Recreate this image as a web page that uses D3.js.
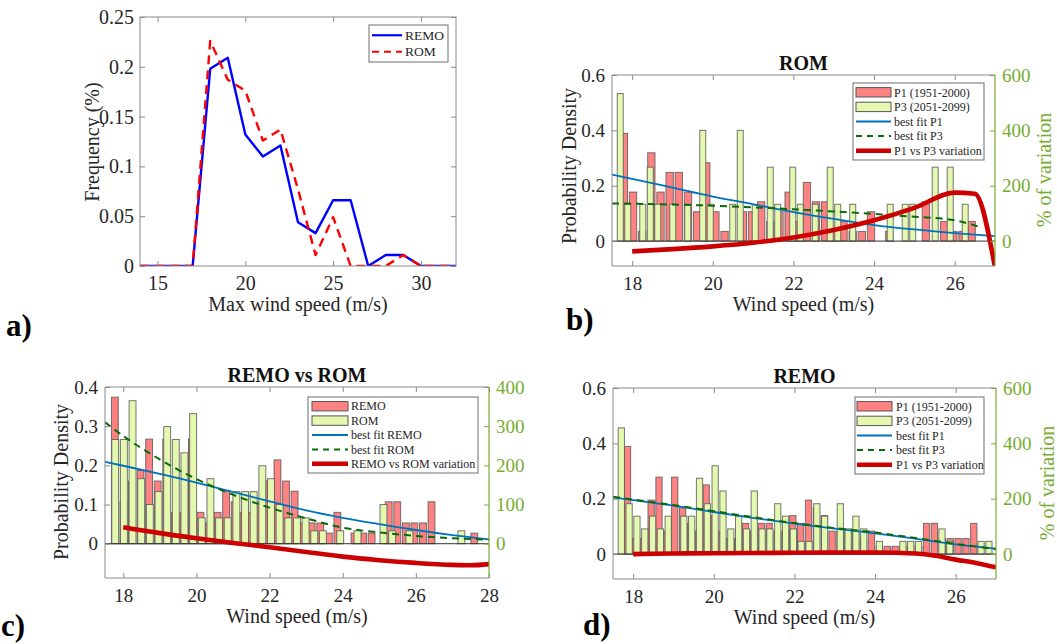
<!DOCTYPE html>
<html>
<head>
<meta charset="utf-8">
<script src="https://cdn.jsdelivr.net/npm/d3@7"></script>
<style>
  html, body { margin: 0; padding: 0; background: #fff; }
  svg { display: block; }
  svg text { font-family: "Liberation Serif", Tinos, "Times New Roman", "DejaVu Serif", serif; }
</style>
</head>
<body>
<svg id="fig" width="1057" height="644"></svg>
<script>
// ---------------- data ----------------
// a) frequency of the annual maximum wind speed
const maxWindSpeed  = [14, 15, 16, 17, 18, 19, 20, 21, 22, 23, 24, 25, 26, 27, 28, 29, 30, 31, 32];
const remoFrequency = [0, 0, 0, 0, 0.198, 0.209, 0.132, 0.110, 0.121, 0.044, 0.033, 0.066, 0.066, 0, 0.011, 0.011, 0, 0, 0];
const romFrequency  = [0, 0, 0, 0, 0.226, 0.187, 0.176, 0.126, 0.137, 0.077, 0.011, 0.049, 0, 0, 0, 0.011, 0, 0, 0];

// b) ROM, P1 vs P3 histograms (first bin centre, bin step, densities)
const romP1Start = 17.795, romP1Step = 0.227;
const romP1Density = [0.389, 0.177, 0.035, 0.319, 0.177, 0.248, 0.248, 0.177, 0.106, 0.283,
                      0.106, 0.035, 0, 0.106, 0.106, 0.142, 0.071, 0.106, 0.177, 0.071,
                      0.212, 0.142, 0.142, 0.035, 0.071, 0.035, 0.035, 0.106, 0, 0.035,
                      0, 0, 0, 0.142, 0, 0.071, 0.035, 0.035, 0.071];
const romP3Start = 17.705, romP3Step = 0.186;
const romP3Density = [0.533, 0.133, 0, 0.133, 0.267, 0.133, 0, 0.133, 0, 0.133,
                      0, 0.4, 0.133, 0, 0, 0.133, 0.4, 0, 0.133, 0,
                      0.267, 0.133, 0, 0.267, 0.133, 0, 0.133, 0, 0.267, 0.133,
                      0, 0.133, 0, 0, 0, 0, 0.133, 0, 0.133, 0.133,
                      0, 0, 0.267, 0, 0.267, 0, 0.133, 0];
const romFitP1X = [17.5, 18, 19, 20, 21, 22, 23, 24, 25, 26, 27];
const romFitP1  = [0.240, 0.225, 0.193, 0.161, 0.133, 0.105, 0.080, 0.058, 0.042, 0.029, 0.018];
const romFitP3X = [17.5, 18, 19, 20, 21, 22, 23, 24, 25, 26, 26.6];
const romFitP3  = [0.136, 0.135, 0.132, 0.128, 0.122, 0.115, 0.107, 0.098, 0.088, 0.075, 0.052];
const romVarX   = [18, 19, 20, 21, 22, 23, 24, 25, 26, 26.5, 27];
const romVar    = [-37, -29, -19, -6, 13, 40, 75, 120, 175, 171, -95];

// c) REMO vs ROM histograms
const remoStart = 17.77, remoStep = 0.234;
const remoDensity = [0.374, 0.107, 0.160, 0.187, 0.267, 0.160, 0.267, 0.080, 0.080, 0.267,
                     0.080, 0.053, 0.080, 0.134, 0.107, 0.080, 0.080, 0.107, 0.160, 0.214,
                     0.160, 0.134, 0.053, 0.053, 0.053, 0.027, 0.080, 0, 0.027, 0.027,
                     0.027, 0, 0.107, 0.107, 0.053, 0.053, 0.053, 0.107, 0, 0,
                     0, 0, 0.027];
const romStart = 17.78, romStep = 0.2366;
const romDensity = [0.266, 0.266, 0.365, 0.166, 0.100, 0.133, 0.299, 0.266, 0.232, 0.332,
                    0.066, 0.166, 0.066, 0.066, 0.133, 0.133, 0.133, 0.199, 0.166, 0.100,
                    0.066, 0.066, 0.066, 0.033, 0.033, 0, 0.033, 0, 0.033, 0,
                    0, 0.100, 0.033, 0, 0.033, 0, 0, 0, 0, 0,
                    0.033];
const cmpFitX    = [17.5, 18, 19, 20, 21, 22, 23, 24, 25, 26, 27, 28];
const cmpFitRemo = [0.209, 0.199, 0.178, 0.156, 0.132, 0.108, 0.085, 0.066, 0.050, 0.035, 0.022, 0.011];
const cmpFitRom  = [0.310, 0.275, 0.215, 0.165, 0.125, 0.092, 0.065, 0.041, 0.029, 0.020, 0.014, 0.010];
const cmpVarX    = [18, 19, 20, 21, 22, 23, 24, 25, 26, 27, 27.5, 28];
const cmpVar     = [42, 27, 14, 2, -9, -21, -33, -42, -49, -54, -55, -52];

// d) REMO, P1 vs P3 histograms
const remoP1Start = 17.86, remoP1Step = 0.1952;
const remoP1Density = [0.389, 0.056, 0.056, 0.195, 0.278, 0.083, 0.278, 0.167, 0.111, 0.083,
                       0.250, 0.139, 0.083, 0.056, 0.056, 0.111, 0.083, 0.111, 0.111, 0.083,
                       0.083, 0.139, 0.111, 0.195, 0.167, 0.139, 0.083, 0.083, 0.083, 0.083,
                       0.056, 0.083, 0.028, 0.028, 0.028, 0.028, 0.028, 0.028, 0.111, 0.111,
                       0.056, 0.056, 0.056, 0.056, 0.111, 0];
const remoP3Start = 17.706, remoP3Step = 0.194;
const remoP3Density = [0.456, 0.182, 0.137, 0.091, 0.137, 0.091, 0.137, 0, 0.137, 0.137,
                       0.274, 0.182, 0.319, 0.228, 0.091, 0.137, 0.091, 0.228, 0.091, 0.091,
                       0.182, 0.137, 0.091, 0.046, 0.046, 0.182, 0.137, 0, 0.182, 0.091,
                       0.137, 0.091, 0, 0.046, 0, 0, 0.046, 0.046, 0.046, 0,
                       0, 0.091, 0.046, 0, 0, 0, 0.046, 0.046];
const remoFitX  = [17.5, 18, 19, 20, 21, 22, 23, 24, 25, 26, 27];
const remoFitP1 = [0.205, 0.195, 0.175, 0.152, 0.130, 0.110, 0.092, 0.075, 0.056, 0.035, 0.020];
const remoFitP3 = [0.207, 0.197, 0.177, 0.155, 0.133, 0.112, 0.094, 0.078, 0.058, 0.037, 0.018];
const remoVarX  = [18, 19, 20, 21, 22, 23, 24, 25, 25.5, 26, 26.5, 27];
const remoVar   = [0, 2, 3, 4, 5, 6, 6, 2, -6, -20, -32, -48];

// ---------------- styling ----------------
const FONT = '"Liberation Serif", Tinos, "Times New Roman", "DejaVu Serif", serif';
const AXIS_GRAY = "#8a8a8a";
const TEXT_COL = "#262626";
const RIGHT_GREEN = "#77AC30";
const BAR_RED = "#FF8282";
const BAR_GREEN = "#E4F8B0";
const BAR_EDGE = "#555555";
const FIT_BLUE = "#0072BD";
const FIT_GREEN = "#0B6A0B";
const VAR_RED = "#CC0000";

const svg = d3.select("#fig").attr("font-family", FONT);
let clipCount = 0;

function pairs(xs, ys) { return xs.map((x, i) => [x, ys[i]]); }

function styleAxis(sel, fs, col, tickCol) {
  sel.attr("font-family", FONT);
  sel.select(".domain").remove();
  sel.selectAll(".tick line").attr("stroke", tickCol || AXIS_GRAY).attr("stroke-width", 1);
  sel.selectAll(".tick text").attr("fill", col || TEXT_COL)
     .attr("font-family", FONT).style("font-size", fs + "px");
}

function plotArea(g, xs, ys) {
  const id = "clip" + (clipCount++);
  const [x0, x1] = xs.range(), [y1, y0] = ys.range();
  g.append("clipPath").attr("id", id).append("rect")
    .attr("x", x0).attr("y", y0).attr("width", x1 - x0).attr("height", y1 - y0);
  return g.append("g").attr("clip-path", `url(#${id})`);
}

function drawBars(area, xs, ys, start, step, values, fill) {
  const w = xs(start + step * 0.8) - xs(start);
  area.append("g").selectAll("rect")
    .data(values.map((v, i) => ({ c: start + i * step, v })).filter(d => d.v > 0))
    .join("rect")
    .attr("x", d => xs(d.c) - w / 2)
    .attr("width", w)
    .attr("y", d => ys(d.v))
    .attr("height", d => ys(0) - ys(d.v))
    .attr("fill", fill)
    .attr("stroke", BAR_EDGE)
    .attr("stroke-opacity", 0.8)
    .attr("stroke-width", 1);
}

function drawLine(area, xs, ys, pts, color, width, dash, curve) {
  area.append("path")
    .datum(pts)
    .attr("fill", "none")
    .attr("stroke", color)
    .attr("stroke-width", width)
    .attr("stroke-dasharray", dash || null)
    .attr("stroke-linejoin", "round")
    .attr("d", d3.line().x(d => xs(d[0])).y(d => ys(d[1])).curve(curve || d3.curveLinear));
}

function addText(g, x, y, str, fs, opts) {
  opts = opts || {};
  const t = g.append("text")
    .attr("x", x).attr("y", y)
    .attr("font-family", FONT)
    .style("font-size", fs + "px")
    .attr("fill", opts.fill || TEXT_COL)
    .text(str);
  if (opts.anchor) t.attr("text-anchor", opts.anchor);
  if (opts.bold) t.style("font-weight", "bold");
  if (opts.dy) t.attr("dy", opts.dy);
  if (opts.transform) t.attr("transform", opts.transform).attr("x", 0).attr("y", 0);
  return t;
}

function drawLegend(g, box, rows, fs) {
  g.append("rect").attr("x", box.x).attr("y", box.y).attr("width", box.w).attr("height", box.h)
    .attr("fill", "#fff").attr("stroke", "#6e6e6e").attr("stroke-width", 1);
  const n = rows.length, pad = 2, dy = (box.h - 2 * pad) / n;
  rows.forEach((r, i) => {
    const cy = box.y + pad + (i + 0.5) * dy;
    const sx0 = box.x + box.sw0, sx1 = box.x + box.sw1;
    if (r.type === "patch") {
      g.append("rect").attr("x", sx0).attr("y", cy - 4.7).attr("width", sx1 - sx0).attr("height", 9.4)
        .attr("fill", r.color).attr("stroke", BAR_EDGE).attr("stroke-width", 1);
    } else {
      g.append("line").attr("x1", sx0).attr("x2", sx1).attr("y1", cy).attr("y2", cy)
        .attr("stroke", r.color).attr("stroke-width", r.width)
        .attr("stroke-dasharray", r.dash || null);
    }
    addText(g, box.x + box.tx, cy, r.label, fs, { dy: "0.35em" });
  });
}

function fmtTick(d) { return d === 0 ? "0" : String(+d.toFixed(2)); }

// ---------------- panel a ----------------
(function () {
  const g = svg.append("g");
  const xs = d3.scaleLinear().domain([14, 32]).range([140, 456]);
  const ys = d3.scaleLinear().domain([0, 0.25]).range([266, 17]);
  const fs = 20;

  const area = plotArea(g, xs, ys);
  drawLine(area, xs, ys, pairs(maxWindSpeed, remoFrequency), "#0000FF", 2.4);
  drawLine(area, xs, ys, pairs(maxWindSpeed, romFrequency), "#FF0000", 2.4, "9,6");

  g.append("g").attr("transform", "translate(0,266)")
    .call(d3.axisBottom(xs).tickValues([15, 20, 25, 30]).tickSizeInner(-5).tickSizeOuter(0).tickPadding(10))
    .call(s => styleAxis(s, fs));
  g.append("g").attr("transform", "translate(0,17)")
    .call(d3.axisTop(xs).tickValues([15, 20, 25, 30]).tickSizeInner(-5).tickSizeOuter(0).tickFormat(""))
    .call(s => styleAxis(s, fs));
  g.append("g").attr("transform", "translate(140,0)")
    .call(d3.axisLeft(ys).tickValues([0, 0.05, 0.1, 0.15, 0.2, 0.25]).tickSizeInner(-5).tickSizeOuter(0).tickPadding(6).tickFormat(fmtTick))
    .call(s => styleAxis(s, fs));
  g.append("g").attr("transform", "translate(456,0)")
    .call(d3.axisRight(ys).tickValues([0, 0.05, 0.1, 0.15, 0.2, 0.25]).tickSizeInner(-5).tickSizeOuter(0).tickFormat(""))
    .call(s => styleAxis(s, fs));
  g.append("rect").attr("x", 140).attr("y", 17).attr("width", 316).attr("height", 249)
    .attr("fill", "none").attr("stroke", AXIS_GRAY).attr("stroke-width", 1);

  addText(g, 298, 311, "Max wind speed (m/s)", fs, { anchor: "middle" });
  addText(g, 0, 0, "Frequency (%)", fs, { anchor: "middle", dy: "0.35em", transform: "translate(92,142) rotate(-90)" });

  drawLegend(g, { x: 369, y: 25, w: 79, h: 37, sw0: 3, sw1: 33, tx: 36 }, [
    { type: "line", color: "#0000FF", width: 2.2, label: "REMO" },
    { type: "line", color: "#FF0000", width: 2.2, dash: "7,5", label: "ROM" }
  ], 13.5);
})();

// ---------------- histogram panels ----------------
function histPanel(cfg) {
  const g = svg.append("g");
  const xs = d3.scaleLinear().domain(cfg.xDomain).range([cfg.left, cfg.right]);
  const ys = d3.scaleLinear().domain(cfg.yDomain).range([cfg.bottom, cfg.top]);
  const yr = d3.scaleLinear().domain(cfg.yDomain.map(v => v * 1000)).range([cfg.bottom, cfg.top]);
  const fs = 19;

  const area = plotArea(g, xs, ys);
  drawBars(area, xs, ys, cfg.barsA.start, cfg.barsA.step, cfg.barsA.values, BAR_RED);
  drawBars(area, xs, ys, cfg.barsB.start, cfg.barsB.step, cfg.barsB.values, BAR_GREEN);
  area.append("line").attr("x1", cfg.left).attr("x2", cfg.right)
    .attr("y1", ys(0)).attr("y2", ys(0)).attr("stroke", "#333").attr("stroke-width", 1);
  drawLine(area, xs, ys, cfg.fitA, FIT_BLUE, 1.8, null, d3.curveMonotoneX);
  drawLine(area, xs, ys, cfg.fitB, FIT_GREEN, 2, "7,5", d3.curveMonotoneX);
  drawLine(area, xs, yr, cfg.variation, VAR_RED, 4.6, null, d3.curveMonotoneX);

  g.append("g").attr("transform", `translate(0,${cfg.bottom})`)
    .call(d3.axisBottom(xs).tickValues(cfg.xTicks).tickSizeInner(-5).tickSizeOuter(0).tickPadding(10.5))
    .call(s => styleAxis(s, fs));
  g.append("g").attr("transform", `translate(0,${cfg.top})`)
    .call(d3.axisTop(xs).tickValues(cfg.xTicks).tickSizeInner(-5).tickSizeOuter(0).tickFormat(""))
    .call(s => styleAxis(s, fs));
  g.append("g").attr("transform", `translate(${cfg.left},0)`)
    .call(d3.axisLeft(ys).tickValues(cfg.yTicks).tickSizeInner(-5).tickSizeOuter(0).tickPadding(7).tickFormat(fmtTick))
    .call(s => styleAxis(s, fs));
  g.append("g").attr("transform", `translate(${cfg.right},0)`)
    .call(d3.axisRight(yr).tickValues(cfg.yTicks.map(v => Math.round(v * 1000))).tickSizeInner(-5).tickSizeOuter(0).tickPadding(7).tickFormat(d3.format("d")))
    .call(s => styleAxis(s, fs, RIGHT_GREEN, RIGHT_GREEN));

  // frame: grey on three sides, green on the right-hand axis
  g.append("path")
    .attr("d", `M${cfg.right},${cfg.top}H${cfg.left}V${cfg.bottom}H${cfg.right}`)
    .attr("fill", "none").attr("stroke", AXIS_GRAY).attr("stroke-width", 1);
  g.append("line").attr("x1", cfg.right).attr("x2", cfg.right).attr("y1", cfg.top).attr("y2", cfg.bottom)
    .attr("stroke", RIGHT_GREEN).attr("stroke-width", 1.2);

  const cx = (cfg.left + cfg.right) / 2;
  addText(g, cx, cfg.top - 5, cfg.title, 20, { anchor: "middle", bold: true, fill: "#111" });
  addText(g, cx, cfg.bottom + 45, "Wind speed (m/s)", 20, { anchor: "middle" });
  if (cfg.leftLabelX !== undefined) {
    addText(g, 0, 0, "Probability Density", 20,
      { anchor: "middle", dy: "0.35em", transform: `translate(${cfg.leftLabelX},${cfg.leftLabelY}) rotate(-90)` });
  }
  if (cfg.rightLabelX !== undefined) {
    addText(g, 0, 0, "% of variation", 20,
      { anchor: "middle", dy: "0.35em", fill: RIGHT_GREEN, transform: `translate(${cfg.rightLabelX},${cfg.rightLabelY}) rotate(-90)` });
  }
  drawLegend(g, cfg.legendBox, cfg.legendRows, 12);
}

// b) ROM
histPanel({
  left: 612, right: 995, top: 75, bottom: 266,
  xDomain: [17.5, 27], yDomain: [-0.09, 0.6],
  xTicks: [18, 20, 22, 24, 26], yTicks: [0, 0.2, 0.4, 0.6],
  barsA: { start: romP1Start, step: romP1Step, values: romP1Density },
  barsB: { start: romP3Start, step: romP3Step, values: romP3Density },
  fitA: pairs(romFitP1X, romFitP1),
  fitB: pairs(romFitP3X, romFitP3),
  variation: pairs(romVarX, romVar),
  title: "ROM",
  leftLabelX: 569, leftLabelY: 166,
  rightLabelX: 1044, rightLabelY: 170,
  legendBox: { x: 853, y: 83, w: 131, h: 77, sw0: 3, sw1: 38, tx: 41 },
  legendRows: [
    { type: "patch", color: BAR_RED, label: "P1 (1951-2000)" },
    { type: "patch", color: BAR_GREEN, label: "P3 (2051-2099)" },
    { type: "line", color: FIT_BLUE, width: 1.8, label: "best fit P1" },
    { type: "line", color: FIT_GREEN, width: 2, dash: "6,5", label: "best fit P3" },
    { type: "line", color: VAR_RED, width: 4.6, label: "P1 vs P3 variation" }
  ]
});

// c) REMO vs ROM
histPanel({
  left: 105, right: 489, top: 387, bottom: 578,
  xDomain: [17.5, 28], yDomain: [-0.0875, 0.4],
  xTicks: [18, 20, 22, 24, 26, 28], yTicks: [0, 0.1, 0.2, 0.3, 0.4],
  barsA: { start: remoStart, step: remoStep, values: remoDensity },
  barsB: { start: romStart, step: romStep, values: romDensity },
  fitA: pairs(cmpFitX, cmpFitRemo),
  fitB: pairs(cmpFitX, cmpFitRom),
  variation: pairs(cmpVarX, cmpVar),
  title: "REMO vs ROM",
  leftLabelX: 61, leftLabelY: 482,
  legendBox: { x: 308, y: 397, w: 170, h: 76, sw0: 4, sw1: 40, tx: 43 },
  legendRows: [
    { type: "patch", color: BAR_RED, label: "REMO" },
    { type: "patch", color: BAR_GREEN, label: "ROM" },
    { type: "line", color: FIT_BLUE, width: 1.8, label: "best fit REMO" },
    { type: "line", color: FIT_GREEN, width: 2, dash: "6,5", label: "best fit ROM" },
    { type: "line", color: VAR_RED, width: 4.6, label: "REMO vs ROM variation" }
  ]
});

// d) REMO
histPanel({
  left: 613, right: 996, top: 388, bottom: 579,
  xDomain: [17.5, 27], yDomain: [-0.09, 0.6],
  xTicks: [18, 20, 22, 24, 26], yTicks: [0, 0.2, 0.4, 0.6],
  barsA: { start: remoP1Start, step: remoP1Step, values: remoP1Density },
  barsB: { start: remoP3Start, step: remoP3Step, values: remoP3Density },
  fitA: pairs(remoFitX, remoFitP1),
  fitB: pairs(remoFitX, remoFitP3),
  variation: pairs(remoVarX, remoVar),
  title: "REMO",
  rightLabelX: 1047, rightLabelY: 483,
  legendBox: { x: 855, y: 397, w: 129, h: 77, sw0: 2, sw1: 37, tx: 41 },
  legendRows: [
    { type: "patch", color: BAR_RED, label: "P1 (1951-2000)" },
    { type: "patch", color: BAR_GREEN, label: "P3 (2051-2099)" },
    { type: "line", color: FIT_BLUE, width: 1.8, label: "best fit P1" },
    { type: "line", color: FIT_GREEN, width: 2, dash: "6,5", label: "best fit P3" },
    { type: "line", color: VAR_RED, width: 4.6, label: "P1 vs P3 variation" }
  ]
});

// panel letters
addText(svg, 6, 336, "a)", 31, { bold: true, fill: "#000" });
addText(svg, 566, 330, "b)", 31, { bold: true, fill: "#000" });
addText(svg, 1, 636, "c)", 31, { bold: true, fill: "#000" });
addText(svg, 583, 635, "d)", 31, { bold: true, fill: "#000" });
</script>
</body>
</html>
